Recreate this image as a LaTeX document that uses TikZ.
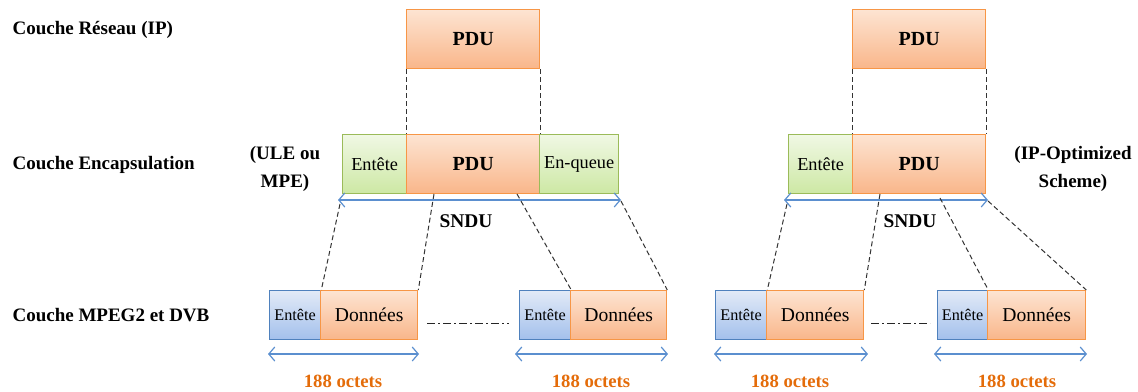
\documentclass[tikz,border=0pt]{standalone}
\usepackage{fontspec}
\setmainfont{Liberation Serif}
\usetikzlibrary{arrows.meta}
\definecolor{orbord}{HTML}{F79646}
\definecolor{ortop}{HTML}{FDE4D2}
\definecolor{orbot}{HTML}{F9B68A}
\definecolor{grbord}{HTML}{9BBB59}
\definecolor{grtop}{HTML}{F0F8E4}
\definecolor{grbot}{HTML}{CDE8A4}
\definecolor{blbord}{HTML}{4F81BD}
\definecolor{bltop}{HTML}{E2EAF7}
\definecolor{blbot}{HTML}{A3C0EC}
\definecolor{arrc}{HTML}{5B8FCF}
\definecolor{octc}{HTML}{E46C0A}
\tikzset{
  box/.style={draw, line width=1.3pt, inner sep=0pt, anchor=north west, text=black},
  orangebox/.style={box, draw=orbord, top color=ortop, bottom color=orbot},
  greenbox/.style={box, draw=grbord, top color=grtop, bottom color=grbot},
  bluebox/.style={box, draw=blbord, top color=bltop, bottom color=blbot},
  conn/.style={draw=black!80, dash pattern=on 5pt off 3pt, line width=1pt},
  dimarrow/.style={draw=arrc, line width=1.2pt, {Straight Barb[length=6pt,width=14pt]}-{Straight Barb[length=6pt,width=14pt]}},
  layerlbl/.style={anchor=west, font=\fontsize{19}{22}\selectfont\bfseries},
  sidelbl/.style={align=center, font=\fontsize{19}{28}\selectfont\bfseries},
  sndulbl/.style={font=\fontsize{19.4}{22}\selectfont\bfseries},
  octlbl/.style={text=octc, font=\fontsize{18.7}{22}\selectfont\bfseries},
  pdufont/.style={font=\fontsize{20}{24}\selectfont\bfseries},
  encfont/.style={font=\fontsize{18.3}{20}\selectfont},
  mpfont/.style={font=\fontsize{16.2}{18}\selectfont},
  donfont/.style={font=\fontsize{19.6}{22}\selectfont},
  dashdot/.style={draw=black!85, line width=1pt, dash pattern=on 8pt off 3pt on 2pt off 3pt}
}
\begin{document}
\begin{tikzpicture}[x=1pt,y=-1pt]
\useasboundingbox (0,0) rectangle (1138,391);
% layer labels
\node[layerlbl] (l1) at (9,30) {Couche Réseau (IP)};
\node[layerlbl] (l2) at (9,165) {Couche Encapsulation};
\node[layerlbl] (l3) at (9,315) {Couche MPEG2 et DVB};
% ===== left group =====
\node[orangebox, pdufont, minimum width=133pt, minimum height=59pt] (pduA) at (406,9) {PDU};
\node[greenbox, encfont, minimum width=64pt, minimum height=59pt] (entA) at (342,134) {Entête};
\node[orangebox, pdufont, minimum width=133pt, minimum height=59pt] (pduB) at (406,134) {PDU};
\node[greenbox, encfont, minimum width=79pt, minimum height=59pt] (queA) at (539,134) {En-queue};
\node[sidelbl] (ule) at (285,169) {(ULE ou\\MPE)};
\coordinate (sA1) at (338,200);
\coordinate (sA2) at (621,200);
\draw[dimarrow] (sA1) -- (sA2);
\node[sndulbl] (sndA) at (466,221) {SNDU};
\draw[conn] (pduA.south west) -- (pduB.north west);
\draw[conn] (pduA.south east) -- (pduB.north east);
% MPEG boxes left
\node[bluebox, mpfont, minimum width=51pt, minimum height=49pt] (e1) at (269,290) {Entête};
\node[orangebox, donfont, minimum width=97pt, minimum height=49pt] (d1) at (320,290) {Données};
\node[bluebox, mpfont, minimum width=51pt, minimum height=49pt] (e2) at (519,290) {Entête};
\node[orangebox, donfont, minimum width=96pt, minimum height=49pt] (d2) at (570,290) {Données};
\coordinate (ddA1) at (427,323);
\coordinate (ddA2) at (509,323);
\draw[dashdot] (ddA1) -- (ddA2);
\coordinate (cA1) at (340,204);
\coordinate (cA2) at (434,194);
\coordinate (cA3) at (517,194);
\coordinate (cA4) at (621,201);
\draw[conn] (cA1) -- (e1.north east);
\draw[conn] (cA2) -- (d1.north east);
\draw[conn] (cA3) -- (e2.north east);
\draw[conn] (cA4) -- (d2.north east);
\coordinate (a1l) at (268,354);
\coordinate (a1r) at (419,354);
\coordinate (a2l) at (515,354);
\coordinate (a2r) at (668,354);
\draw[dimarrow] (a1l) -- (a1r);
\draw[dimarrow] (a2l) -- (a2r);
\node[octlbl] (o1) at (343,381) {188 octets};
\node[octlbl] (o2) at (591,381) {188 octets};
% ===== right group =====
\node[orangebox, pdufont, minimum width=133pt, minimum height=59pt] (pduC) at (852,9) {PDU};
\node[greenbox, encfont, minimum width=64pt, minimum height=59pt] (entB) at (788,134) {Entête};
\node[orangebox, pdufont, minimum width=133pt, minimum height=59pt] (pduD) at (852,134) {PDU};
\node[sidelbl] (ipo) at (1073,169) {(IP-Optimized\\Scheme)};
\coordinate (sB1) at (784,200);
\coordinate (sB2) at (988,200);
\draw[dimarrow] (sB1) -- (sB2);
\node[sndulbl] (sndB) at (910,221) {SNDU};
\draw[conn] (pduC.south west) -- (pduD.north west);
\draw[conn] (pduC.south east) -- (pduD.north east);
\node[bluebox, mpfont, minimum width=51pt, minimum height=49pt] (e3) at (715,290) {Entête};
\node[orangebox, donfont, minimum width=97pt, minimum height=49pt] (d3) at (766,290) {Données};
\node[bluebox, mpfont, minimum width=50pt, minimum height=49pt] (e4) at (937,290) {Entête};
\node[orangebox, donfont, minimum width=98pt, minimum height=49pt] (d4) at (987,290) {Données};
\coordinate (ddB1) at (871,323);
\coordinate (ddB2) at (930,323);
\draw[dashdot] (ddB1) -- (ddB2);
\coordinate (cB1) at (787,204);
\coordinate (cB2) at (880,194);
\coordinate (cB3) at (940,198);
\coordinate (cB4) at (988,201);
\draw[conn] (cB1) -- (e3.north east);
\draw[conn] (cB2) -- (d3.north east);
\draw[conn] (cB3) -- (e4.north east);
\draw[conn] (cB4) -- (d4.north east);
\coordinate (a3l) at (714,354);
\coordinate (a3r) at (868,354);
\coordinate (a4l) at (934,354);
\coordinate (a4r) at (1087,354);
\draw[dimarrow] (a3l) -- (a3r);
\draw[dimarrow] (a4l) -- (a4r);
\node[octlbl] (o3) at (790,381) {188 octets};
\node[octlbl] (o4) at (1017,381) {188 octets};
\end{tikzpicture}
\end{document}
